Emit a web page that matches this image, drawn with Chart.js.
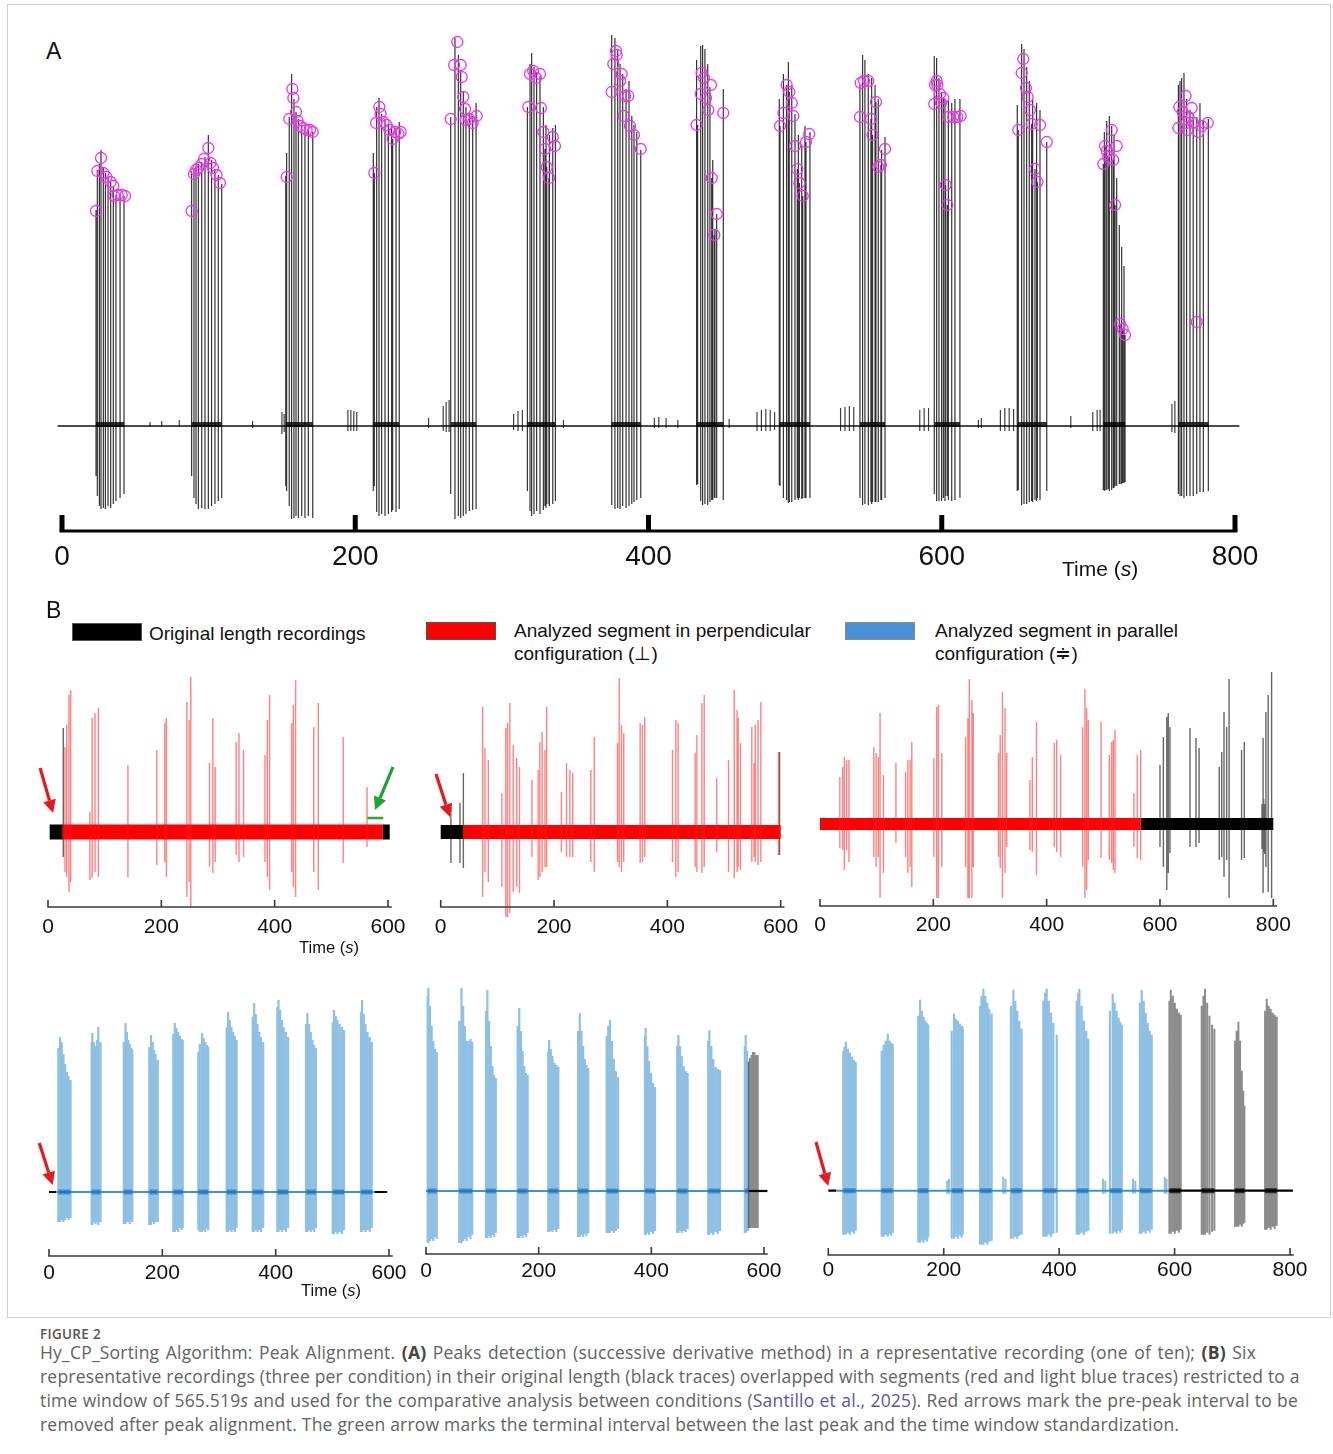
<!DOCTYPE html>
<html>
<head>
<meta charset="utf-8">
<script src="https://cdn.jsdelivr.net/npm/chart.js@4/dist/chart.umd.min.js"></script>
<style>
body { margin: 0; background: #fff; width: 1333px; height: 1454px; position: relative; overflow: hidden;
       font-family: "Liberation Sans", Arial, sans-serif; color: #111; }
canvas { position: absolute; }
.frame { position: absolute; left: 7px; top: 4px; width: 1322px; height: 1312px; border: 1.5px solid #cfcfcf; }
.lbl { position: absolute; font-size: 23px; line-height: 24px; }
.ttl { position: absolute; white-space: nowrap; }
.sw { position: absolute; width: 70px; height: 18px; box-sizing: border-box; border: 1px solid #555; }
.lg { position: absolute; font-size: 19px; line-height: 23px; white-space: nowrap; }
.capt { position: absolute; left: 40px; top: 1325px; font-family: "Open Sans", sans-serif; font-size: 13.5px;
        font-weight: 600; color: #555; letter-spacing: 0.3px; }
.cap { position: absolute; left: 40px; font-family: "Open Sans", sans-serif; font-size: 17.5px; line-height: 22px;
       color: #626262; white-space: nowrap; letter-spacing: 0.2px; }
.cap.j { text-align: justify; text-align-last: justify; }
.cap b { color: #444; }
.ref { color: #5656a8; }
</style>
</head>
<body>
<div class="frame"></div>

<div class="lbl" style="left:46px;top:39px">A</div>
<canvas id="chartA" width="1333" height="600" style="left:0;top:0"></canvas>
<div class="ttl" style="left:1062px;top:557px;font-size:21px">Time (<i>s</i>)</div>

<div class="lbl" style="left:46px;top:598px">B</div>
<div class="sw" style="left:72px;top:623px;background:#000"></div>
<div class="lg" style="left:149px;top:622px">Original length recordings</div>
<div class="sw" style="left:426px;top:622px;background:#ff0000"></div>
<div class="lg" style="left:514px;top:619px">Analyzed segment in perpendicular<br>configuration (&#8869;)</div>
<div class="sw" style="left:845px;top:622px;background:#4a90d9;border-color:#8a8a8a"></div>
<div class="lg" style="left:935px;top:619px">Analyzed segment in parallel<br>configuration (&#8785;)</div>

<canvas id="chartR1" width="430" height="300" style="left:0;top:660px"></canvas>
<canvas id="chartR2" width="400" height="300" style="left:420px;top:660px"></canvas>
<canvas id="chartR3" width="530" height="300" style="left:800px;top:650px"></canvas>
<div class="ttl" style="left:299px;top:938px;font-size:16.5px">Time (<i>s</i>)</div>

<canvas id="chartB1" width="430" height="330" style="left:0;top:975px"></canvas>
<canvas id="chartB2" width="400" height="330" style="left:410px;top:970px"></canvas>
<canvas id="chartB3" width="530" height="330" style="left:800px;top:970px"></canvas>
<div class="ttl" style="left:301px;top:1281px;font-size:16.5px">Time (<i>s</i>)</div>

<div class="capt">FIGURE 2</div>
<div class="cap j" style="top:1341px;width:1216px">Hy_CP_Sorting Algorithm: Peak Alignment. <b>(A)</b> Peaks detection (successive derivative method) in a representative recording (one of ten); <b>(B)</b> Six</div>
<div class="cap j" style="top:1365px;width:1258px">representative recordings (three per condition) in their original length (black traces) overlapped with segments (red and light blue traces) restricted to a</div>
<div class="cap j" style="top:1389px;width:1258px">time window of 565.519<i>s</i> and used for the comparative analysis between conditions (<span class="ref">Santillo et al., 2025</span>). Red arrows mark the pre-peak interval to be</div>
<div class="cap" style="top:1413px">removed after peak alignment. The green arrow marks the terminal interval between the last peak and the time window standardization.</div>

<script>
// ─────────────────────────────
// AXES
// ─────────────────────────────
const ticks800 = [0, 200, 400, 600, 800];
const ticks600 = [0, 200, 400, 600];

// ─────────────────────────────
// PANEL A - spikes [t (s), up, down] per burst, detected peaks [t, amp]
// ─────────────────────────────
const spikesA = [
    [[23.2,216,50],[24.1,256,70],[25.5,262,80],[26.6,276,83],[28.2,258,82],[29.6,253,83],[31.4,249,80],[33.2,244,82],[35.0,240,78],[36.8,231,75],[39.6,232,72],[42.3,230,68]],
    [[88.4,255,50],[90.0,258,72],[91.4,260,78],[93.0,262,83],[95.3,264,82],[97.5,269,83],[99.8,291,83],[102.0,266,80],[104.3,257,78],[106.6,251,75],[108.9,242,72]],
    [[152.6,250,60],[153.2,273,65],[155.0,309,80],[156.6,352,93],[158.2,327,92],[159.6,314,90],[161.2,307,92],[163.5,301,90],[165.7,300,92],[168.0,298,90],[171.0,294,92]],
    [[212.3,273,65],[213.0,253,60],[214.6,319,86],[216.2,328,90],[218.0,312,88],[220.3,307,90],[222.6,303,88],[224.8,300,86],[225.5,287,84],[227.8,298,86],[230.0,304,83]],
    [[265.1,309,68],[268.0,388,93],[270.3,371,90],[271.9,355,92],[273.7,334,90],[275.5,319,88],[277.8,312,85],[280.1,310,84],[282.4,323,83]],
    [[317.4,319,65],[319.2,362,85],[320.3,373,90],[321.9,359,88],[323.7,353,85],[326.0,350,88],[328.3,319,84],[329.4,277,80],[330.1,301,82],[330.6,259,78],[332.1,248,78],[332.4,291,80],[334.7,298,78],[336.5,301,75]],
    [[374.9,391,79],[377.1,388,83],[379.0,377,82],[380.6,362,83],[382.4,352,80],[384.7,337,82],[386.7,345,80],[388.6,310,78],[390.1,301,76],[392.0,294,74],[394.7,276,72]],
    [[432.8,366,59],[433.5,301,58],[435.6,380,75],[436.9,381,79],[438.5,377,78],[440.4,362,79],[441.9,339,76],[443.1,248,74],[443.8,266,74],[444.9,191,72],[445.3,197,72],[446.5,212,72],[451.0,337,74]],
    [[489.2,327,59],[489.7,300,60],[492.0,352,72],[494.2,341,74],[495.4,364,77],[496.0,334,76],[497.7,341,76],[499.9,312,74],[501.5,257,72],[502.2,291,74],[502.9,243,72],[504.5,280,73],[505.2,230,72],[506.7,300,72],[507.4,284,72],[510.1,294,72]],
    [[544.2,341,72],[546.0,371,79],[547.6,366,78],[549.9,352,79],[551.7,307,76],[552.2,348,78],[552.8,291,76],[554.5,341,76],[555.1,324,76],[556.7,327,76],[558.5,261,74],[559.0,276,74],[561.3,289,72]],
    [[594.9,370,68],[596.5,368,75],[598.1,348,75],[599.9,334,75],[601.1,328,72],[602.2,327,75],[602.6,241,70],[603.8,221,70],[604.5,325,74],[606.8,323,75],[609.0,327,74],[612.4,327,72]],
    [[651.5,321,65],[652.2,296,64],[654.5,382,79],[656.1,377,78],[657.9,359,78],[659.7,345,76],[661.3,302,75],[662.0,327,76],[663.6,257,74],[664.7,323,75],[665.2,244,72],[667.0,316,74],[671.6,284,65]],
    [[710.2,262,64],[710.9,294,65],[711.4,280,64],[712.5,305,64],[713.6,269,63],[714.3,310,65],[715.9,300,64],[717.0,266,62],[717.5,291,62],[718.2,221,60],[719.3,248,60],[721.1,201,58],[721.6,102,58],[722.7,179,58],[723.4,97,57],[724.3,160,57],[725.0,91,56]],
    [[761.4,341,68],[762.5,345,70],[763.6,348,70],[765.2,353,72],[767.0,327,70],[769.3,316,70],[771.5,312,70],[773.9,309,68],[773.9,104,60],[776.1,323,66],[778.4,305,66],[781.8,307,65]]
];

const peaksA = [
    [23.2,215],[24.1,255],[26.6,268],[28.2,253],[30.3,249],[33.2,244],[35.0,240],[35.6,230],[38.0,231],[40.7,231],[43.0,230],
    [88.4,215],[90.0,252],[91.4,256],[93.0,258],[95.3,262],[96.9,267],[99.8,278],[101.3,263],[103.1,258],[105.4,251],[107.7,243],
    [153.2,249],[155.0,307],[157.1,337],[157.8,328],[159.6,314],[160.7,305],[162.3,300],[164.6,298],[166.8,296],[169.1,296],[171.0,294],
    [213.0,253],[214.2,303],[216.4,319],[217.3,312],[219.2,304],[221.4,301],[223.3,296],[225.5,287],[227.2,294],[229.5,292],[231.0,294],
    [265.1,307],[267.4,361],[269.6,384],[271.9,361],[272.6,349],[273.7,329],[274.9,317],[275.3,306],[277.8,307],[280.1,303],[282.8,310],
    [318.0,319],[319.2,352],[321.4,355],[323.3,348],[326.0,352],[326.7,318],[328.3,294],[329.4,277],[330.6,259],[332.1,248],[334.7,289],[336.2,280],
    [377.8,375],[378.3,371],[376.0,362],[374.9,334],[381.7,352],[380.6,345],[384.0,330],[386.2,330],[383.0,310],[387.4,300],[390.1,291],[394.7,277],
    [432.8,301],[435.6,332],[436.2,353],[437.8,348],[442.6,341],[439.2,328],[440.8,316],[443.1,248],[446.5,212],[444.9,191],[451.0,313],
    [489.7,300],[492.0,313],[494.2,341],[496.0,334],[497.7,323],[498.8,310],[499.9,280],[501.5,257],[502.9,243],[505.2,230],[507.4,284],[509.6,292],
    [544.7,343],[547.0,345],[549.9,345],[544.2,309],[551.7,307],[552.8,291],[555.1,324],[561.3,277],[556.7,259],[558.5,261],
    [596.5,345],[597.0,341],[595.4,341],[598.8,332],[601.1,328],[594.9,322],[599.5,323],[604.5,309],[607.9,309],[610.6,309],[612.9,310],[602.6,241],[603.8,221],
    [655.6,367],[654.5,353],[657.4,338],[658.6,329],[660.2,316],[661.3,302],[667.0,301],[652.2,296],[671.6,284],[663.6,257],[665.2,244],
    [715.9,296],[711.4,280],[719.3,280],[712.5,275],[713.6,269],[710.2,262],[717.0,266],[718.2,221],[721.6,102],[723.4,97],[725.0,91],
    [766.3,330],[762.0,319],[764.3,314],[770.5,318],[768.2,309],[767.0,303],[771.5,303],[761.4,298],[767.5,296],[775.0,294],[777.3,300],[781.4,303],[773.9,104]
];

// small pre-burst activity and baseline blips
const smallA = [
    [-1,3,2],[60,4,1],[68,5,1],[80,6,1],[130,5,2],[150,14,8],[151.5,12,6],[195,16,5],[197,16,5],[199,15,5],[201,14,5],
    [250,8,2],[260,20,5],[262,24,6],[264,26,6],[308,12,4],[311,15,5],[314,16,5],[342,6,2],[404,8,2],[407,9,2],[412,8,2],
    [420,6,2],[455,7,2],[474,14,5],[477,16,5],[480,17,5],[483,16,5],[486,14,4],[531,18,5],[534,19,5],[537,20,5],[540,19,5],
    [585,16,5],[588,18,5],[591,18,5],[625,6,2],[627,8,2],[640,16,5],[643,18,5],[646,18,5],[649,17,5],[688,10,2],
    [703,14,5],[706,16,5],[708,16,5],[757,22,6],[759,25,7]
];
const baselineA = [[-3, 803]];

// ─────────────────────────────
// PANEL B - perpendicular (red) recordings
// ─────────────────────────────
const red1Spikes = [
    [30,85,40],[33,107,45],[37,137,60],[40,142,50],[74,20,48],[78,114,46],[83,119,40],[89,124,45],[141,67,45],
    [192,82,33],[206,109,30],[209,114,45],[245,130,65],[249,112,50],[252,155,75],[285,69,35],[291,114,41],[295,65,30],
    [332,90,23],[337,99,30],[345,82,25],[383,77,30],[387,112,45],[391,137,58],[430,109,40],[433,127,55],[437,152,65],
    [469,105,40],[477,129,58],[521,95,31],[563,45,15]
];
const red1Black = [[27,104,25]];
const red1BandRed = [[26, 591]];
const red1BandBlack = [[3, 26], [591, 603]];
const red1Terminal = [[563.5, 591.7]];

const red2Spikes = [
    [74,125,65],[78,84,40],[84,72,50],[108,39,55],[115,104,85],[118,109,85],[122,129,81],[128,87,60],[134,74,55],[139,65,61],
    [161,52,25],[172,62,48],[175,90,45],[179,100,40],[184,82,35],[187,125,35],[213,40,20],[222,69,25],[228,62,25],[233,59,25],
    [265,62,30],[271,95,40],[312,89,30],[315,154,35],[319,107,40],[323,99,30],[352,109,31],[356,107,30],[360,115,25],
    [409,82,30],[415,112,45],[419,109,40],[449,79,35],[452,97,40],[461,129,41],[465,137,35],[487,54,20],
    [508,72,40],[518,142,46],[523,122,40],[525,114,35],[529,89,38],[549,105,30],[553,69,25],[555,107,30],[560,112,33],[565,130,30],
    [596,80,23]
];
const red2Black = [[18,25,31],[34,29,31],[40,59,36],[598,80,23]];
const red2BandRed = [[40, 600]];
const red2BandBlack = [[0, 40]];

const red3Spikes = [
    [35,47,24],[40,57,26],[43,67,46],[47,64,26],[51,64,38],[95,77,33],[99,71,43],[103,67,33],[106,111,74],[112,49,49],
    [134,61,19],[151,52,33],[155,64,49],[159,64,43],[162,82,63],[201,66,33],[206,117,74],[209,119,74],[215,71,43],
    [257,87,43],[261,106,74],[263.5,145,74],[268,124,74],[270.5,111,43],[315,71,33],[318,89,44],[322,132,74],[326.5,116,49],[329.5,71,23],
    [370.6,44,26],[374.7,67,28],[382,102,51],[413.5,81,23],[417.7,84,28],[424.7,69,33],
    [463.6,97,43],[467.6,135,74],[470.6,116,66],[473.5,104,36],[496,102,34],
    [510.6,69,36],[514.7,82,39],[517.6,84,46],[520.6,94,49],[554,31,23],[560,69,34],[566,74,36]
];
const red3Black = [
    [600,59,23],[606,87,43],[612,107,66],[614.6,111,49],[617.6,97,29],[653,96,23],[663.5,86,23],[669,76,19],
    [704.6,57,36],[709,72,33],[713,112,53],[717.7,97,36],[722,145,74],[744,74,36],[748.8,82,34],
    [780,20,25],[783,25,28],[785,20,30],[782,86,69],[787,112,43],[791,129,68],[797,152,74]
];
const red3BandRed = [[0, 566]];
const red3BandBlack = [[566, 800]];

// ─────────────────────────────
// PANEL B - parallel (blue) recordings, bursts of [t, up, down]
// ─────────────────────────────
const blue1Bursts = [
    [[16.5,144,30],[19.5,155,30],[22.5,150,28],[25.5,138,30],[28.5,128,28],[31.5,120,26],[34.5,116,28],[38,112,26]],
    [[75.3,150,33],[76.5,159,33],[79,150,30],[82,146,32],[85,152,30],[87,165,33],[91,150,30]],
    [[132,150,32],[135,169,32],[137.5,160,30],[140,152,30],[142.5,148,32],[145,144,28],[147,142,30]],
    [[177,145,33],[180,157,33],[183,150,30],[185.5,142,32],[188,138,30],[192,132,30]],
    [[219.4,158,40],[222,169,40],[225,164,38],[228,160,40],[231,156,36],[234,153,38],[236,152,36]],
    [[263.5,140,38],[266,148,40],[270,159,40],[273,154,38],[276,150,40],[279,147,36],[281,145,38]],
    [[313.6,165,40],[316,180,40],[319,172,38],[322,165,40],[325,160,38],[328,156,40],[331,152,36]],
    [[359.5,175,40],[362,189,40],[365,178,38],[368,168,40],[371,160,38],[374,155,40],[378,150,36]],
    [[403,185,40],[405,192,40],[408,182,38],[411,172,40],[414,165,38],[418,160,40],[422,155,36]],
    [[453.6,168,40],[456,179,40],[459,168,38],[462,160,40],[465,152,38],[468,147,40],[471,144,36]],
    [[500.7,170,42],[503,182,42],[506,176,40],[509,172,42],[513,168,40],[517,165,42],[520.6,162,38]],
    [[550.6,180,40],[552.5,192,40],[555.5,178,38],[558.5,168,40],[562,160,38],[566,155,40],[569.5,150,36]]
];
const blue1Base = [[13, 575]];
const blue1BaseBlack = [[0, 13], [575, 597]];

const blue2Bursts = [
    [[3,195,52],[4.2,203,52],[7,185,50],[10,165,48],[13,150,50],[16,142,46],[19,139,48]],
    [[59,170,52],[63,203,52],[66,185,50],[69,165,48],[72,150,50],[76,150,46],[79,152,48],[82,149,44]],
    [[106.5,180,47],[109,201,47],[112,170,45],[115,145,47],[118,125,44],[121,116,46],[124,113,42]],
    [[162.7,165,47],[165.6,183,47],[168.5,160,45],[171.5,140,47],[174.5,125,44],[177.5,118,46],[180.5,116,42]],
    [[217,140,41],[218.5,151,41],[221.5,142,40],[224.5,135,41],[228,128,39],[231.5,126,41],[235,124,38]],
    [[270,160,46],[273,178,46],[276,160,44],[279,145,46],[282,132,43],[285,126,45],[288,123,42]],
    [[320.7,155,42],[323.5,165,42],[326.6,171,42],[330,150,40],[333.5,132,42],[337,120,40],[341,114,38]],
    [[388.7,155,44],[390,163,44],[393,145,42],[396,130,44],[399.5,118,41],[403,108,43],[406.5,104,40]],
    [[446,145,42],[448,156,42],[451,145,40],[454,135,42],[457.5,125,40],[461,120,41],[464.4,118,38]],
    [[501,150,44],[503,161,44],[506.5,145,42],[510,132,44],[514,124,41],[518,122,43],[522,121,40]],
    [[566,145,42],[567.5,156,42],[570,140,40],[572,130,40]]
];
const blue2Black = [[573,129,37],[575,133,37],[578,136,37],[580.5,139,37],[583,139,37],[586,136,37],[589,136,37]];
const blue2Base = [[0, 572]];
const blue2BaseBlack = [[572, 606]];

const blue3Bursts = [
    [[26,140,44],[28,144,44],[30.6,149,44],[34,142,42],[37.5,138,44],[41,134,41],[44.5,131,43],[47.5,129,40]],
    [[92.5,140,46],[96,146,46],[99.5,150,44],[103,157,46],[106,150,43],[109,148,45],[111.6,147,42]],
    [[156,175,52],[159,191,52],[162,180,50],[165,174,52],[168,170,49],[171,168,51],[173,166,47]],
    [[213.8,160,48],[217.9,177,48],[221,172,46],[224.5,170,48],[228,167,45],[231,165,47],[233,164,44]],
    [[263,185,54],[265.5,195,54],[268.7,202,54],[272,195,52],[275.5,188,54],[279,182,51],[283,177,50]],
    [[316.6,185,48],[320.7,201,48],[324,190,46],[327.5,180,48],[331,170,45],[335,162,44]],
    [[372.6,190,46],[375.5,198,46],[378.4,202,46],[382,190,44],[386,178,46],[390,168,43],[395.8,156,42]],
    [[430.5,190,44],[433,198,44],[435,202,44],[439,185,42],[443,170,44],[447,160,41],[450.6,152,40]],
    [[488,180,43],[492.8,197,43],[496,188,41],[499.5,180,43],[503,173,40],[506,169,42],[508.5,166,39]],
    [[540,188,43],[543,201,43],[546.5,190,41],[550,178,43],[553.5,168,40],[557,160,42],[560.4,156,39]]
];
const blue3BlackBursts = [
    [[591,190,43],[593.4,201,43],[597,195,41],[600.5,188,43],[604,182,40],[607.5,178,42],[610.7,176,39]],
    [[647,185,44],[650,195,44],[652.8,202,44],[656.5,188,42],[660.5,175,44],[665,166,41],[669,162,40]],
    [[704.8,150,36],[707.5,160,36],[710.6,169,36],[713.5,150,34],[716.5,120,36],[719,100,33],[721,85,32]],
    [[756.8,180,39],[759.7,192,39],[763,185,37],[766.5,182,39],[770,178,36],[773.5,176,38],[777,174,35]]
];
const blue3Small = [[206,10,3],[209,12,3],[303,14,3],[307,12,3],[476,12,3],[480,10,3],[528,12,3],[532,10,3],[583,14,3],[586,12,3]];
const blue3Base = [[14, 591]];
const blue3BaseBlack = [[0, 14], [591, 805]];

// ─────────────────────────────
// HELPERS
// ─────────────────────────────
function spikeSet(list, color, w) {
    const pts = [];
    list.forEach(([t, up, dn]) => pts.push({ x: t, y: -dn }, { x: t, y: up }, { x: t, y: null }));
    return { data: pts, borderColor: color, borderWidth: w, pointRadius: 0, spanGaps: false, clip: false };
}

function runSet(list, amp, color, w) {
    const pts = [];
    list.forEach(([a, b]) => pts.push({ x: a, y: amp }, { x: b, y: amp }, { x: b, y: null }));
    return { data: pts, borderColor: color, borderWidth: w, pointRadius: 0, spanGaps: false, clip: false, borderCapStyle: 'butt' };
}

function burstRuns(bursts) {
    return bursts.map(b => [b[0][0], b[b.length - 1][0]]);
}

function drawArrow(ctx, x, y, dx, dy, color) {
    const x0 = x + dx, y0 = y + dy;
    const a = Math.atan2(y - y0, x - x0);
    const hl = 13, hw = 6.5;
    const bx = x - hl * Math.cos(a), by = y - hl * Math.sin(a);
    ctx.strokeStyle = color;
    ctx.fillStyle = color;
    ctx.lineWidth = 3.2;
    ctx.beginPath();
    ctx.moveTo(x0, y0);
    ctx.lineTo(bx, by);
    ctx.stroke();
    ctx.beginPath();
    ctx.moveTo(x, y);
    ctx.lineTo(bx + hw * Math.sin(a), by - hw * Math.cos(a));
    ctx.lineTo(bx - hw * Math.sin(a), by + hw * Math.cos(a));
    ctx.closePath();
    ctx.fill();
}

// time axis with upward ticks + annotation arrows
function decoPlugin(d) {
    return {
        id: 'deco',
        afterDraw(chart) {
            const ctx = chart.ctx, xs = chart.scales.x, ys = chart.scales.y;
            const y0 = chart.chartArea.bottom;
            ctx.save();
            ctx.strokeStyle = d.color;
            ctx.fillStyle = d.color;
            ctx.lineWidth = d.axisW;
            ctx.beginPath();
            ctx.moveTo(xs.getPixelForValue(d.ticks[0]) - d.tickW / 2, y0);
            ctx.lineTo(xs.getPixelForValue(d.ticks[d.ticks.length - 1]) + d.tickW / 2 + d.extra, y0);
            ctx.stroke();
            ctx.font = d.font;
            ctx.textAlign = 'center';
            ctx.textBaseline = 'middle';
            d.ticks.forEach(v => {
                const x = xs.getPixelForValue(v);
                ctx.fillStyle = d.color;
                ctx.fillRect(x - d.tickW / 2, y0 - d.tickH, d.tickW, d.tickH);
                ctx.fillStyle = '#111';
                ctx.fillText(String(v), x, y0 + d.labelDy);
            });
            (d.arrows || []).forEach(a =>
                drawArrow(ctx, xs.getPixelForValue(a.t), ys.getPixelForValue(a.amp), a.dx, a.dy, a.color));
            ctx.restore();
        }
    };
}

function makeChart(id, cfg) {
    return new Chart(document.getElementById(id), {
        type: 'line',
        data: { datasets: cfg.datasets },
        options: {
            responsive: false,
            animation: false,
            devicePixelRatio: 1,
            events: [],
            layout: { padding: cfg.pad },
            scales: {
                x: { type: 'linear', min: cfg.x[0], max: cfg.x[1], display: false },
                y: { type: 'linear', min: cfg.y[0], max: cfg.y[1], display: false }
            },
            plugins: { legend: { display: false }, tooltip: { enabled: false } },
            elements: { line: { tension: 0 }, point: { radius: 0 } }
        },
        plugins: [decoPlugin(cfg.deco)]
    });
}

const axisB = { color: '#3a3a3a', axisW: 1.6, tickW: 1.6, tickH: 7, extra: 3, font: '21px "Liberation Sans", Arial, sans-serif' };
const RED = '#ff0000', RED_T = 'rgba(255,25,25,0.55)';
const BLACK_T = 'rgba(0,0,0,0.6)';
const BLUE_T = 'rgba(50,140,205,0.55)', BLUE_BASE = '#3f93d2', BLUE_BLOB = 'rgba(20,105,185,0.6)';

// ─────────────────────────────
// CHART A
// ─────────────────────────────
makeChart('chartA', {
    pad: { left: 62, right: 98, top: 30, bottom: 69 },
    x: [0, 800], y: [-105, 396],
    deco: { ticks: ticks800, color: '#000', axisW: 3.2, tickW: 5, tickH: 16, extra: 0, labelDy: 26,
            font: '28px "Liberation Sans", Arial, sans-serif' },
    datasets: [
        { data: peaksA.map(([t, a]) => ({ x: t, y: a })), showLine: false, pointRadius: 5.5, pointStyle: 'circle',
          pointBorderColor: '#ee33ee', pointBackgroundColor: 'rgba(0,0,0,0)', pointBorderWidth: 1.3, borderColor: '#ee33ee', clip: false },
        spikeSet(spikesA.flat(), 'rgba(0,0,0,0.8)', 1.2),
        spikeSet(smallA, 'rgba(0,0,0,0.75)', 1.2),
        runSet(burstRuns(spikesA), 1.5, 'rgba(0,0,0,0.8)', 5),
        runSet(baselineA, 0, '#111', 1.6)
    ]
});

// ─────────────────────────────
// CHARTS B - RED ROW
// ─────────────────────────────
makeChart('chartR1', {
    pad: { left: 48, right: 42, top: 15, bottom: 53 },
    x: [0, 600], y: [-75, 157],
    deco: Object.assign({ ticks: ticks600, labelDy: 20,
        arrows: [{ t: 9, amp: 19, dx: -13, dy: -45, color: '#e8191c' },
                 { t: 577, amp: 22, dx: 18, dy: -43, color: '#1fa22f' }] }, axisB),
    datasets: [
        runSet(red1Terminal, 14, '#22aa33', 2.5),
        spikeSet(red1Spikes, RED_T, 1.4),
        runSet(red1BandRed, 0, RED, 15),
        spikeSet(red1Black, BLACK_T, 1.4),
        runSet(red1BandBlack, 0, '#000', 15)
    ]
});

makeChart('chartR2', {
    pad: { left: 20.7, right: 39.3, top: 15, bottom: 53 },
    x: [0, 600], y: [-75, 157],
    deco: Object.assign({ ticks: ticks600, labelDy: 20,
        arrows: [{ t: 16.4, amp: 15, dx: -14, dy: -43, color: '#e8191c' }] }, axisB),
    datasets: [
        spikeSet(red2Spikes, RED_T, 1.4),
        runSet(red2BandRed, 0, RED, 14),
        spikeSet(red2Black, BLACK_T, 1.4),
        runSet(red2BandBlack, 0, '#000', 14)
    ]
});

makeChart('chartR3', {
    pad: { left: 20, right: 56.7, top: 16, bottom: 44 },
    x: [0, 800], y: [-82, 158],
    deco: Object.assign({ ticks: ticks800, labelDy: 19 }, axisB),
    datasets: [
        spikeSet(red3Spikes, RED_T, 1.4),
        runSet(red3BandRed, 0, RED, 12),
        spikeSet(red3Black, BLACK_T, 1.4),
        runSet(red3BandBlack, 0, '#000', 12)
    ]
});

// ─────────────────────────────
// CHARTS B - BLUE ROW
// ─────────────────────────────
makeChart('chartB1', {
    pad: { left: 49, right: 41, top: 20, bottom: 49 },
    x: [0, 600], y: [-64, 197],
    deco: Object.assign({ ticks: ticks600, labelDy: 17,
        arrows: [{ t: 6.5, amp: 7, dx: -13.4, dy: -42, color: '#e8191c' }] }, axisB),
    datasets: [
        runSet(burstRuns(blue1Bursts), 0, BLUE_BLOB, 5),
        spikeSet(blue1Bursts.flat(), BLUE_T, 2.2),
        runSet(blue1Base, 0, BLUE_BASE, 2),
        runSet(blue1BaseBlack, 0, '#000', 2.2)
    ]
});

makeChart('chartB2', {
    pad: { left: 16, right: 46, top: 15, bottom: 46 },
    x: [0, 600], y: [-63, 206],
    deco: Object.assign({ ticks: ticks600, labelDy: 17 }, axisB),
    datasets: [
        runSet(burstRuns(blue2Bursts), 0, BLUE_BLOB, 5),
        spikeSet(blue2Black, 'rgba(0,0,0,0.45)', 2),
        spikeSet(blue2Bursts.flat(), BLUE_T, 2.2),
        runSet(blue2Base, 0, BLUE_BASE, 2),
        runSet(blue2BaseBlack, 0, '#000', 2.2)
    ]
});

makeChart('chartB3', {
    pad: { left: 28.3, right: 40, top: 15, bottom: 45 },
    x: [0, 800], y: [-64.3, 205.7],
    deco: Object.assign({ ticks: ticks800, labelDy: 15,
        arrows: [{ t: 0, amp: 4.7, dx: -12.3, dy: -44, color: '#e8191c' }] }, axisB),
    datasets: [
        runSet(burstRuns(blue3Bursts), 0, BLUE_BLOB, 5),
        runSet(burstRuns(blue3BlackBursts), 0, 'rgba(0,0,0,0.7)', 5),
        spikeSet(blue3Bursts.flat(), BLUE_T, 2.2),
        spikeSet(blue3BlackBursts.flat(), 'rgba(0,0,0,0.45)', 2),
        spikeSet(blue3Small, BLUE_T, 2),
        runSet(blue3Base, 0, BLUE_BASE, 2),
        runSet(blue3BaseBlack, 0, '#000', 2.2)
    ]
});
</script>
</body>
</html>
